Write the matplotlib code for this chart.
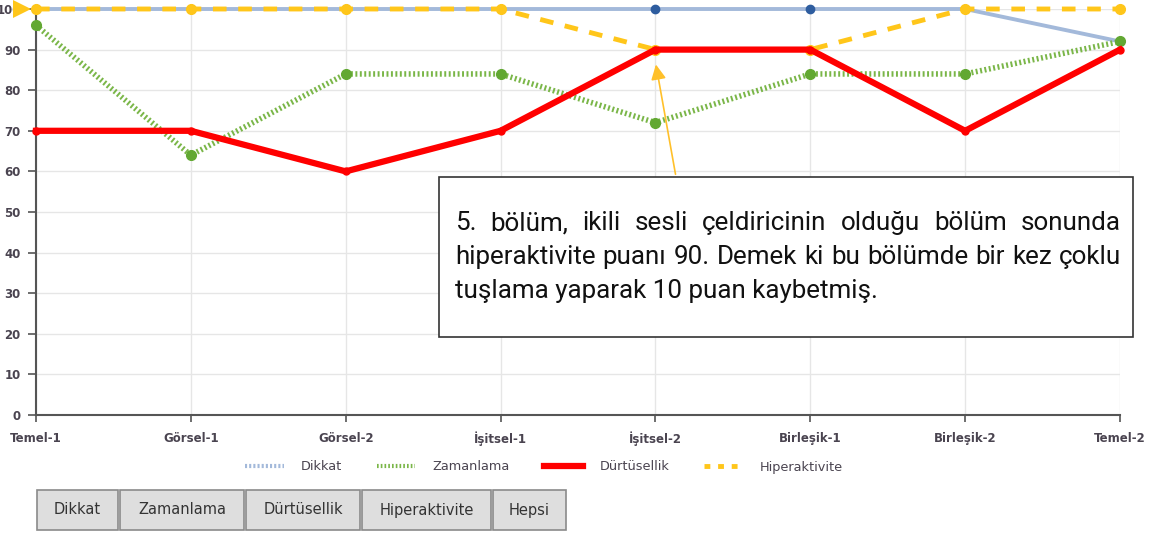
import matplotlib.pyplot as plt
from matplotlib.lines import Line2D
from matplotlib.patches import Rectangle

categories = ['Temel-1', 'Görsel-1', 'Görsel-2', 'İşitsel-1', 'İşitsel-2',
              'Birleşik-1', 'Birleşik-2', 'Temel-2']
dikkat = [100, 100, 100, 100, 100, 100, 100, 92]
zamanlama = [96, 64, 84, 84, 72, 84, 84, 92]
durtusellik = [70, 70, 60, 70, 90, 90, 70, 90]
hiperaktivite = [100, 100, 100, 100, 90, 90, 100, 100]
y_ticks = list(range(0, 101, 10))
buttons = ['Dikkat', 'Zamanlama', 'Dürtüsellik', 'Hiperaktivite', 'Hepsi']
note_lines = ['5. bölüm, ikili sesli çeldiricinin olduğu bölüm sonunda',
              'hiperaktivite puanı 90. Demek ki bu bölümde bir kez çoklu',
              'tuşlama yaparak 10 puan kaybetmiş.']

W, H = 1157, 536
fig = plt.figure(figsize=(W / 100, H / 100), dpi=100)
ax = fig.add_axes([36 / W, (H - 415) / H, (1120 - 36) / W, (415 - 9) / H])

x = list(range(len(categories)))
c_blue, c_blue_m = '#a3b9da', '#2e5d9f'
c_green, c_green_m = '#7ab648', '#62a832'
c_red = '#ff0000'
c_yel = '#ffc61a'

ax.plot(x, dikkat, color=c_blue, lw=2.8, zorder=2, solid_capstyle='round',
        marker='o', ms=6, mfc=c_blue_m, mec=c_blue_m, clip_on=False)
ax.plot(x, hiperaktivite, color=c_yel, lw=3.5, ls=(0, (2.8, 2.4)), zorder=3,
        marker='o', ms=7, mfc=c_yel, mec=c_yel, clip_on=False)
ax.plot(x, zamanlama, color=c_green, lw=4, ls=(0, (0.35, 0.45)), zorder=4,
        marker='o', ms=7, mfc=c_green_m, mec=c_green_m, clip_on=False)
ax.plot(x, durtusellik, color=c_red, lw=4.5, zorder=5, solid_joinstyle='round',
        marker='o', ms=5, mfc=c_red, mec=c_red, clip_on=False)

ax.set_xlim(0, len(categories) - 1)
ax.set_ylim(0, 100)
ax.set_xticks(x)
ax.set_xticklabels(categories, fontsize=8.5, fontweight='bold', color='#4a4450')
ax.set_yticks(y_ticks)
ax.set_yticklabels([str(v) for v in y_ticks], fontsize=8.5, fontweight='bold',
                   color='#4a4450')
ax.tick_params(axis='x', length=5, width=1.2, color='#555555', pad=7)
ax.tick_params(axis='y', length=6, width=1.2, color='#555555', pad=5)
ax.grid(True, color='#e6e6e6', lw=1)
ax.set_axisbelow(True)
for s in ['top', 'right']:
    ax.spines[s].set_visible(False)
for s in ['left', 'bottom']:
    ax.spines[s].set_color('#555555')
    ax.spines[s].set_linewidth(1.5)

# yellow pointer at the top left
ax.plot([-0.09], [100], marker='>', ms=13, color=c_yel, clip_on=False,
        zorder=6, markeredgewidth=0)

# note box and arrow
fig.patches.append(Rectangle((439 / W, (H - 337) / H), (1133 - 439) / W, 160 / H,
                             transform=fig.transFigure, fc='white', ec='#333333',
                             lw=1.2, zorder=10))
ax.annotate('', xy=(4, 87), xytext=(676 / W, (H - 177) / H),
            textcoords='figure fraction',
            arrowprops=dict(arrowstyle='-|>,head_length=0.9,head_width=0.45',
                            color='#ffc02a', lw=1.2), zorder=6)

renderer = fig.canvas.get_renderer()
left, right = 455, 1121
fs = 18.7
for i, line in enumerate(note_lines):
    yb = (H - 230 - i * 34) / H
    words = line.split(' ')
    if i < len(note_lines) - 1:
        widths = []
        for w in words:
            t = fig.text(0, 0, w, fontsize=fs, family='Roboto')
            widths.append(t.get_window_extent(renderer).width)
            t.remove()
        gap = (right - left - sum(widths)) / (len(words) - 1)
        xp = left
        for w, wd in zip(words, widths):
            fig.text(xp / W, yb, w, fontsize=fs, family='Roboto', color='#111111',
                     va='baseline', zorder=11)
            xp += wd + gap
    else:
        fig.text(left / W, yb, line, fontsize=fs, family='Roboto', color='#111111',
                 va='baseline', zorder=11)

# legend
handles = [
    Line2D([], [], color=c_blue, lw=3, ls=(0, (0.5, 0.5))),
    Line2D([], [], color=c_green, lw=3, ls=(0, (0.4, 0.5))),
    Line2D([], [], color=c_red, lw=4.5),
    Line2D([], [], color=c_yel, lw=3.5, ls=(0, (1.2, 1.6))),
]
fig.legend(handles, ['Dikkat', 'Zamanlama', 'Dürtüsellik', 'Hiperaktivite'],
           loc='center', bbox_to_anchor=(544 / W, (H - 467) / H), ncol=4,
           frameon=False, fontsize=9.3, handlelength=3.0, columnspacing=2.7,
           handletextpad=1.3, labelcolor='#4a4450')

# buttons
bx = [37, 120, 246, 362, 493, 568]
for i, b in enumerate(buttons):
    x0, x1 = bx[i], bx[i + 1] - 2
    fig.patches.append(Rectangle((x0 / W, (H - 530) / H), (x1 - x0) / W, 40 / H,
                                 transform=fig.transFigure, fc='#dedede',
                                 ec='#8a8a8a', lw=1.2))
    fig.text((x0 + x1) / 2 / W, (H - 510) / H, b, ha='center', va='center',
             fontsize=10.5, color='#333333')

fig.savefig('out.png', dpi=100)
